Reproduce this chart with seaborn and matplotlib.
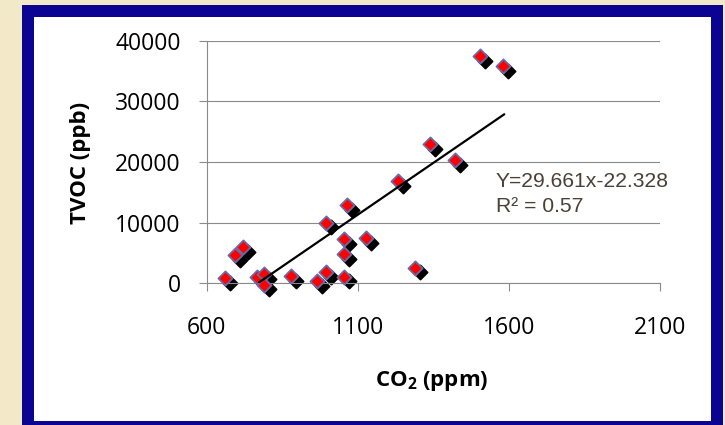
import matplotlib
matplotlib.use("Agg")
import matplotlib.pyplot as plt
from matplotlib.patches import Rectangle
from matplotlib.transforms import IdentityTransform, offset_copy
import seaborn as sns
import pandas as pd

# ---- data ----
co2 = [660, 695, 720, 767, 790, 790, 880, 965, 995, 995, 1055,
       1063, 1055, 1055, 1126, 1234, 1289, 1339, 1421, 1504, 1581]
tvoc = [800, 4700, 6000, 1000, 1500, -200, 1200, 400, 1900, 10000, 1100,
        12900, 7300, 4800, 7500, 16900, 2600, 23000, 20300, 37500, 35800]
trend_x = [773, 1584]
trend_y = [150, 27870]
x_ticks = [600, 1100, 1600, 2100]
y_ticks = [0, 10000, 20000, 30000, 40000]
equation_text = "Y=29.661x-22.328"
r2_text = "R\u00b2 = 0.57"
x_label = "CO$_2$ (ppm)"
y_label = "TVOC (ppb)"

df = pd.DataFrame({"CO2": co2, "TVOC": tvoc})

sns.set_theme(style="white")
plt.rcParams["font.family"] = ["Open Sans", "DejaVu Sans"]
plt.rcParams["mathtext.fontset"] = "custom"
plt.rcParams["mathtext.rm"] = "Open Sans"
plt.rcParams["mathtext.bf"] = "Open Sans:bold"
plt.rcParams["mathtext.default"] = "bf"

W, H = 725, 425
fig = plt.figure(figsize=(W / 100, H / 100), dpi=100)
fig.patch.set_facecolor("#f2e9c9")

# blue frame and white panel (pixel coordinates)
fig.patches.append(Rectangle((22, -20), 701, 440, transform=IdentityTransform(),
                             facecolor="#0b0493", edgecolor="none", zorder=-2))
fig.patches.append(Rectangle((34, 4), 677, 404, transform=IdentityTransform(),
                             facecolor="white", edgecolor="none", zorder=-1))

ax = fig.add_axes([206.7 / W, (H - 283.3) / H, 453.6 / W, 242.6 / H])
ax.set_facecolor("white")
ax.set_axisbelow(True)

ax.set_xlim(600, 2100)
ax.set_ylim(0, 40000)

# shadow layer (offset down-right), then the markers
shadow_tr = offset_copy(ax.transData, fig=fig, x=4.8, y=-4.8, units="dots")
sns.scatterplot(data=df, x="CO2", y="TVOC", ax=ax, marker="D", s=52,
                color="black", edgecolor="black", linewidth=1.3,
                clip_on=False, zorder=2.5, transform=shadow_tr)
sns.scatterplot(data=df, x="CO2", y="TVOC", ax=ax, marker="D", s=52,
                color="#ff0000", edgecolor="#6a6aa6", linewidth=1.3,
                clip_on=False, zorder=3)
sns.lineplot(x=trend_x, y=trend_y, ax=ax, color="black", linewidth=1.6, zorder=4)

ax.set_xlim(600, 2100)
ax.set_ylim(0, 40000)
ax.set_xticks(x_ticks)
ax.set_yticks(y_ticks)
ax.set_xticklabels([str(v) for v in x_ticks])
ax.set_yticklabels([str(v) for v in y_ticks])

ax.yaxis.grid(True, color="#8a8a8a", linewidth=0.8)
ax.xaxis.grid(False)
for side in ["top", "right"]:
    ax.spines[side].set_visible(False)
for side in ["left", "bottom"]:
    ax.spines[side].set_color("#8a8a8a")
    ax.spines[side].set_linewidth(0.8)

ax.tick_params(axis="both", which="major", bottom=True, left=True, direction="out",
               length=5.8, width=0.8, color="#8a8a8a", labelsize=16.5, labelcolor="black")
ax.tick_params(axis="x", pad=18)
ax.tick_params(axis="y", pad=13)

ax.set_xlabel(x_label, fontsize=16, fontweight="bold", color="black")
ax.set_ylabel(y_label, fontsize=16, fontweight="bold", color="black")
ax.xaxis.set_label_coords((432 - 206.7) / 453.6, (283.3 - 381) / 242.6)
ax.xaxis.label.set_va("center")
ax.yaxis.set_label_coords((80 - 206.7) / 453.6, (283.3 - 162.5) / 242.6)
ax.yaxis.label.set_va("center")

ax.text((496 - 206.7) / 453.6, (283.3 - 186.7) / 242.6, equation_text,
        transform=ax.transAxes, fontsize=15.2, family="Liberation Sans",
        color="#4a4038", ha="left", va="baseline")
ax.text((496 - 206.7) / 453.6, (283.3 - 211.7) / 242.6, r2_text,
        transform=ax.transAxes, fontsize=15.2, family="Liberation Sans",
        color="#4a4038", ha="left", va="baseline")

fig.savefig("out.png", dpi=100, facecolor=fig.get_facecolor())
